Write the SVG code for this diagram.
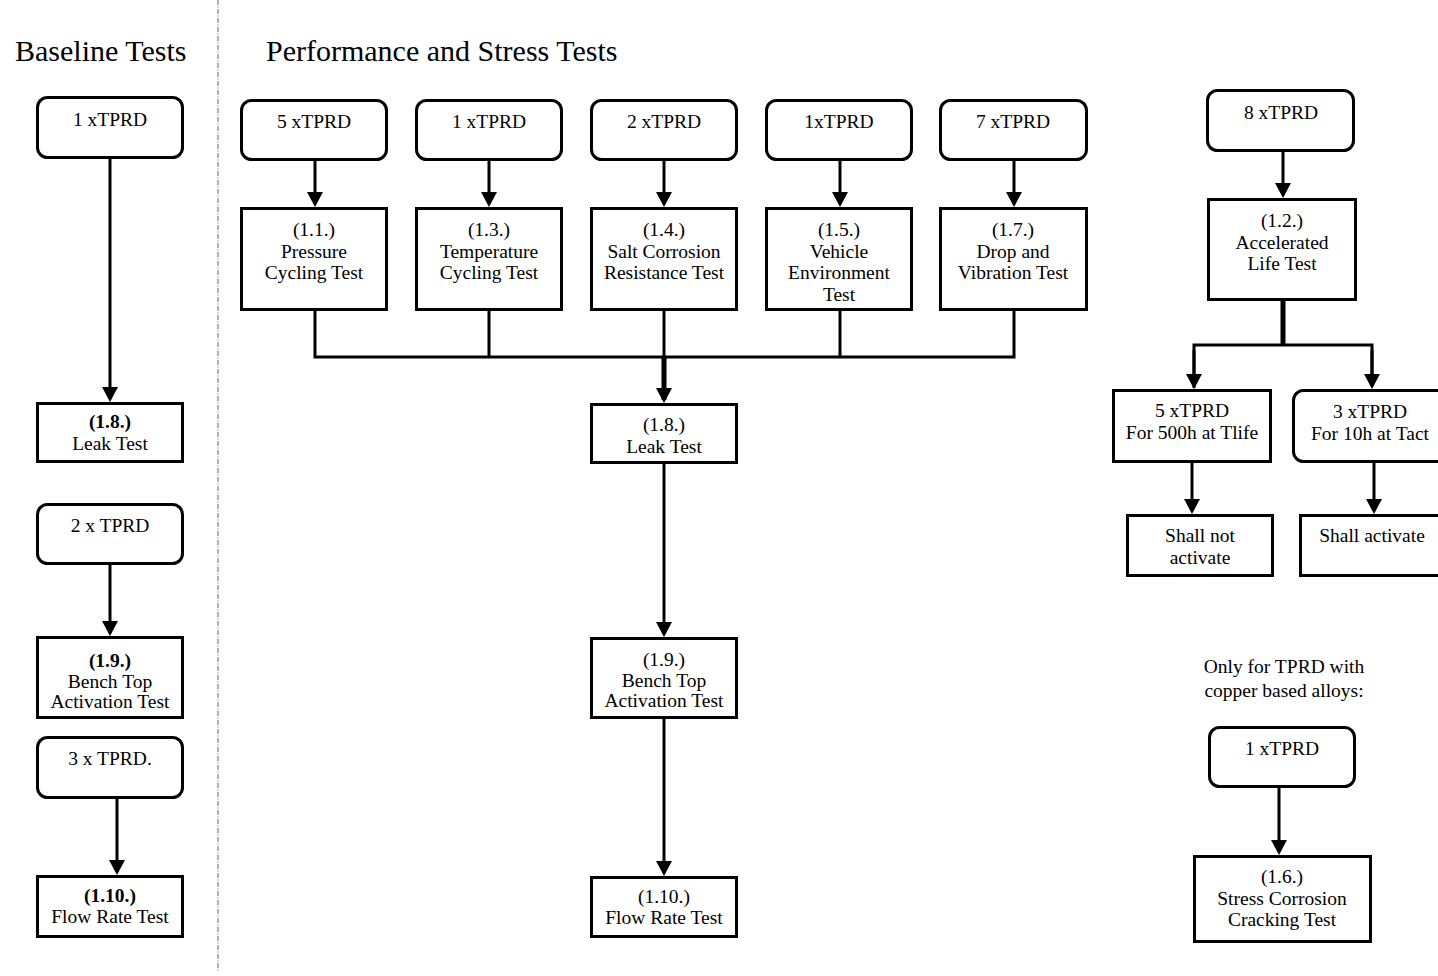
<svg xmlns="http://www.w3.org/2000/svg" width="1438" height="976" viewBox="0 0 1438 976">
<style>
.b{fill:#fff;stroke:#000;stroke-width:3}
.t{font-family:"Liberation Serif","Times New Roman",serif;font-size:19.5px;fill:#000;text-anchor:middle}
.h{font-family:"Liberation Serif","Times New Roman",serif;font-size:30px;fill:#000}
.c{fill:none;stroke:#000;stroke-width:3}
.k{fill:none;stroke:#000;stroke-width:5}
.a{fill:none;stroke:#000;stroke-width:3;marker-end:url(#ah)}
.ak{fill:none;stroke:#000;stroke-width:5;marker-end:url(#ah)}
</style>
<defs>
<marker id="ah" markerUnits="userSpaceOnUse" markerWidth="15" markerHeight="16" refX="12" refY="8" orient="auto" viewBox="0 0 15 16"><path d="M0,0 L15,8 L0,16 z" fill="#000"/></marker>
</defs>
<rect width="1438" height="976" fill="#fff"/>
<line x1="218" y1="0" x2="218" y2="972" stroke="#666" stroke-width="1" stroke-dasharray="5 1.5 1 1.5"/>
<text class="h" x="15" y="61">Baseline Tests</text>
<text class="h" x="266" y="61">Performance and Stress Tests</text>

<g id="connectors">
<line class="a" x1="110" y1="159" x2="110" y2="399"/>
<line class="a" x1="110" y1="565" x2="110" y2="633"/>
<line class="a" x1="117" y1="799" x2="117" y2="872"/>
<line class="a" x1="315" y1="161" x2="315" y2="204"/>
<line class="a" x1="489" y1="161" x2="489" y2="204"/>
<line class="a" x1="664" y1="161" x2="664" y2="204"/>
<line class="a" x1="840" y1="161" x2="840" y2="204"/>
<line class="a" x1="1014" y1="161" x2="1014" y2="204"/>
<path class="c" d="M315,311 V357 H1014 V311 M489,311 V357 M664,311 V357 M840,311 V357"/>
<line class="ak" x1="664" y1="357" x2="664" y2="400"/>
<line class="a" x1="664" y1="464" x2="664" y2="634"/>
<line class="a" x1="664" y1="719" x2="664" y2="873"/>
<line class="a" x1="1283" y1="152" x2="1283" y2="195"/>
<line class="k" x1="1283" y1="301" x2="1283" y2="346"/>
<path class="c" d="M1194,388 V345 H1372 V386"/>
<line class="a" x1="1194" y1="350" x2="1194" y2="386"/>
<line class="a" x1="1372" y1="350" x2="1372" y2="386"/>
<line class="a" x1="1192" y1="463" x2="1192" y2="511"/>
<line class="a" x1="1374" y1="463" x2="1374" y2="511"/>
<line class="a" x1="1279" y1="788" x2="1279" y2="852"/>
</g>

<g id="b-1x">
<rect class="b" x="37.5" y="97.5" width="145" height="60" rx="10"/>
<text class="t" x="110" y="126">1 xTPRD</text>
</g>
<g id="b-leak">
<rect class="b" x="37.5" y="403.5" width="145" height="58"/>
<text class="t" x="110" y="428"><tspan font-weight="bold">(1.8.)</tspan><tspan x="110" dy="21.5">Leak Test</tspan></text>
</g>
<g id="b-2x">
<rect class="b" x="37.5" y="504.5" width="145" height="59" rx="10"/>
<text class="t" x="110" y="532">2 x TPRD</text>
</g>
<g id="b-bench">
<rect class="b" x="37.5" y="637.5" width="145" height="80"/>
<text class="t" x="110" y="667"><tspan font-weight="bold">(1.9.)</tspan><tspan x="110" dy="20.5">Bench Top</tspan><tspan x="110" dy="20.5">Activation Test</tspan></text>
</g>
<g id="b-3x">
<rect class="b" x="37.5" y="737.5" width="145" height="60" rx="10"/>
<text class="t" x="110" y="765">3 x TPRD.</text>
</g>
<g id="b-flow">
<rect class="b" x="37.5" y="876.5" width="145" height="60"/>
<text class="t" x="110" y="902"><tspan font-weight="bold">(1.10.)</tspan><tspan x="110" dy="21">Flow Rate Test</tspan></text>
</g>

<g id="p-5x">
<rect class="b" x="241.5" y="100.5" width="145" height="59" rx="10"/>
<text class="t" x="314" y="128">5 xTPRD</text>
</g>
<g id="p-1x">
<rect class="b" x="416.5" y="100.5" width="145" height="59" rx="10"/>
<text class="t" x="489" y="128">1 xTPRD</text>
</g>
<g id="p-2x">
<rect class="b" x="591.5" y="100.5" width="145" height="59" rx="10"/>
<text class="t" x="664" y="128">2 xTPRD</text>
</g>
<g id="p-1x-b">
<rect class="b" x="766.5" y="100.5" width="145" height="59" rx="10"/>
<text class="t" x="839" y="128">1xTPRD</text>
</g>
<g id="p-7x">
<rect class="b" x="940.5" y="100.5" width="146" height="59" rx="10"/>
<text class="t" x="1013" y="128">7 xTPRD</text>
</g>

<g id="p-11">
<rect class="b" x="241.5" y="208.5" width="145" height="101"/>
<text class="t" x="314" y="236"><tspan>(1.1.)</tspan><tspan x="314" dy="21.5">Pressure</tspan><tspan x="314" dy="21.5">Cycling Test</tspan></text>
</g>
<g id="p-13">
<rect class="b" x="416.5" y="208.5" width="145" height="101"/>
<text class="t" x="489" y="236"><tspan>(1.3.)</tspan><tspan x="489" dy="21.5">Temperature</tspan><tspan x="489" dy="21.5">Cycling Test</tspan></text>
</g>
<g id="p-14">
<rect class="b" x="591.5" y="208.5" width="145" height="101"/>
<text class="t" x="664" y="236"><tspan>(1.4.)</tspan><tspan x="664" dy="21.5">Salt Corrosion</tspan><tspan x="664" dy="21.5">Resistance Test</tspan></text>
</g>
<g id="p-15">
<rect class="b" x="766.5" y="208.5" width="145" height="101"/>
<text class="t" x="839" y="236"><tspan>(1.5.)</tspan><tspan x="839" dy="21.5">Vehicle</tspan><tspan x="839" dy="21.5">Environment</tspan><tspan x="839" dy="21.5">Test</tspan></text>
</g>
<g id="p-17">
<rect class="b" x="940.5" y="208.5" width="146" height="101"/>
<text class="t" x="1013" y="236"><tspan>(1.7.)</tspan><tspan x="1013" dy="21.5">Drop and</tspan><tspan x="1013" dy="21.5">Vibration Test</tspan></text>
</g>

<g id="p-leak">
<rect class="b" x="591.5" y="404.5" width="145" height="58"/>
<text class="t" x="664" y="431"><tspan>(1.8.)</tspan><tspan x="664" dy="21.5">Leak Test</tspan></text>
</g>
<g id="p-bench">
<rect class="b" x="591.5" y="638.5" width="145" height="79"/>
<text class="t" x="664" y="666"><tspan>(1.9.)</tspan><tspan x="664" dy="20.5">Bench Top</tspan><tspan x="664" dy="20.5">Activation Test</tspan></text>
</g>
<g id="p-flow">
<rect class="b" x="591.5" y="877.5" width="145" height="59"/>
<text class="t" x="664" y="903"><tspan>(1.10.)</tspan><tspan x="664" dy="21">Flow Rate Test</tspan></text>
</g>

<g id="r-8x">
<rect class="b" x="1207.5" y="90.5" width="146" height="60" rx="10"/>
<text class="t" x="1281" y="119">8 xTPRD</text>
</g>
<g id="r-12">
<rect class="b" x="1208.5" y="199.5" width="147" height="100"/>
<text class="t" x="1282" y="227"><tspan>(1.2.)</tspan><tspan x="1282" dy="21.5">Accelerated</tspan><tspan x="1282" dy="21.5">Life Test</tspan></text>
</g>
<g id="r-5x">
<rect class="b" x="1113.5" y="390.5" width="157" height="71"/>
<text class="t" x="1192" y="417"><tspan>5 xTPRD</tspan><tspan x="1192" dy="21.5">For 500h at Tlife</tspan></text>
</g>
<g id="r-3x">
<rect class="b" x="1293.5" y="390.5" width="154" height="71" rx="10"/>
<text class="t" x="1370" y="418"><tspan>3 xTPRD</tspan><tspan x="1370" dy="22">For 10h at Tact</tspan></text>
</g>
<g id="r-notact">
<rect class="b" x="1127.5" y="515.5" width="145" height="60"/>
<text class="t" x="1200" y="542"><tspan>Shall not</tspan><tspan x="1200" dy="21.5">activate</tspan></text>
</g>
<g id="r-act">
<rect class="b" x="1300.5" y="515.5" width="146" height="60"/>
<text class="t" x="1372" y="542">Shall activate</text>
</g>

<text class="t" x="1284" y="673"><tspan>Only for TPRD with</tspan><tspan x="1284" dy="24">copper based alloys:</tspan></text>
<g id="r-1x">
<rect class="b" x="1209.5" y="727.5" width="145" height="59" rx="10"/>
<text class="t" x="1282" y="755">1 xTPRD</text>
</g>
<g id="r-16">
<rect class="b" x="1194.5" y="856.5" width="176" height="85"/>
<text class="t" x="1282" y="883"><tspan>(1.6.)</tspan><tspan x="1282" dy="21.5">Stress Corrosion</tspan><tspan x="1282" dy="21.5">Cracking Test</tspan></text>
</g>
</svg>
